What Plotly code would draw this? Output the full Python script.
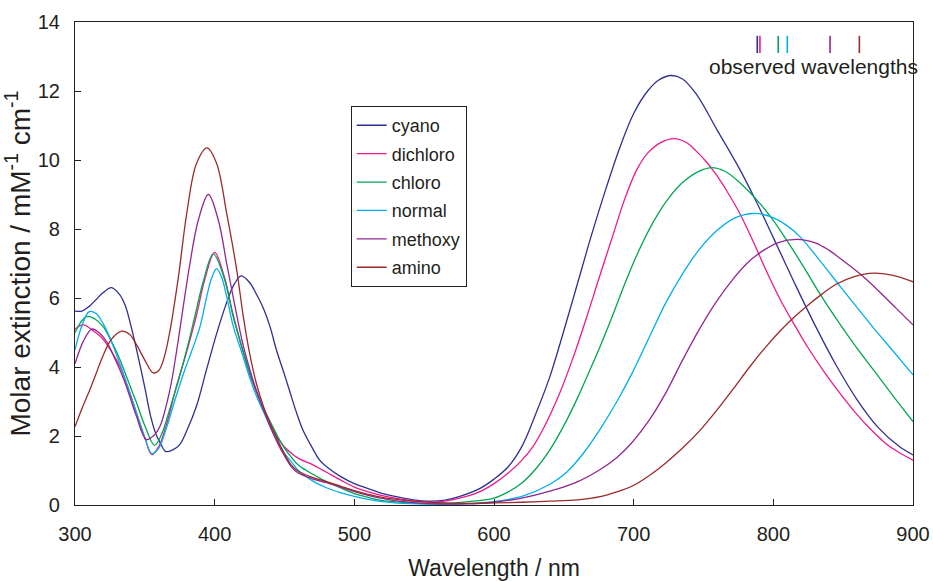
import plotly.graph_objects as go

# spectra: wavelength (nm) and molar extinction (mM^-1 cm^-1)
cyano_nm = [300, 305, 310, 315, 320, 326, 332, 336, 340, 344, 350, 354, 358, 361, 365, 370, 375, 380, 387, 394,
            401, 408, 414, 419, 425, 430, 435, 440, 444, 450, 454, 458, 463, 470, 475, 482, 490, 500, 506, 518,
            530, 542, 554, 565, 575, 590, 600, 610, 620, 630, 640, 650, 660, 670, 680, 690, 700, 710, 718,
            727, 735, 745, 760, 775, 786, 800, 815, 830, 845, 860, 875, 890, 900]
cyano = [5.62, 5.62, 5.75, 5.95, 6.15, 6.3, 6.1, 5.78, 5.2, 4.52, 3.4, 2.6, 2.05, 1.8, 1.55, 1.6, 1.75, 2.15, 2.87, 3.9,
         4.91, 5.8, 6.4, 6.64, 6.45, 6.1, 5.69, 5.12, 4.52, 3.78, 3.26, 2.75, 2.19, 1.65, 1.31, 1.05, 0.83, 0.62, 0.53, 0.36,
         0.24, 0.15, 0.11, 0.14, 0.24, 0.48, 0.75, 1.1, 1.7, 2.65, 3.72, 5.05, 6.45, 7.85, 9.15, 10.35, 11.35, 12.0, 12.32,
         12.45, 12.35, 11.9, 10.85, 9.8, 8.94, 7.75, 6.45, 5.2, 4.05, 3.05, 2.25, 1.7, 1.45]

dichloro_nm = [300, 306, 313, 320, 326, 332, 338, 344, 350, 355, 360, 366, 372, 380, 387, 393, 400, 407, 413, 420,
               425, 430, 435, 440, 445, 450, 455, 460, 470, 480, 490, 500, 510, 520, 530, 540, 555, 570, 580, 590,
               600, 610, 620, 628, 637, 647, 656, 666, 675, 685, 693, 702, 710, 720, 729, 738, 745, 752, 759, 767,
               776, 786, 795, 805, 814, 825, 836, 848, 860, 870, 880, 890, 900]
dichloro = [5.1, 5.22, 5.05, 4.81, 4.45, 4.03, 3.4, 2.67, 1.95, 1.46, 1.7, 2.4, 3.35, 4.45, 5.5, 6.55, 7.32, 6.6, 5.55, 4.5,
            3.8, 3.25, 2.75, 2.3, 1.95, 1.68, 1.5, 1.35, 1.17, 0.95, 0.73, 0.52, 0.38, 0.27, 0.19, 0.13, 0.08, 0.15, 0.25, 0.39,
            0.62, 0.92, 1.3, 1.7, 2.35, 3.24, 4.2, 5.4, 6.55, 7.8, 8.8, 9.7, 10.2, 10.52, 10.62, 10.5, 10.25, 9.95, 9.58, 9.08,
            8.45, 7.6, 6.78, 5.95, 5.3, 4.55, 3.88, 3.22, 2.62, 2.18, 1.8, 1.52, 1.3]

chloro_nm = [300, 308, 314, 320, 326, 332, 338, 344, 350, 357, 362, 368, 374, 380, 386, 392, 399, 407, 413, 420,
             425, 430, 435, 440, 445, 450, 455, 460, 470, 480, 490, 500, 510, 520, 530, 545, 560, 580, 600, 610,
             620, 630, 640, 650, 660, 668, 675, 685, 694, 704, 714, 724, 735, 747, 756, 765, 775, 786, 798, 810,
             822, 833, 845, 858, 872, 885, 900]
chloro = [5.0, 5.46, 5.4, 5.18, 4.75, 4.23, 3.6, 2.97, 2.3, 1.73, 2.05, 2.8, 3.6, 4.5, 5.5, 6.5, 7.28, 6.55, 5.5, 4.5,
          3.85, 3.3, 2.8, 2.4, 2.0, 1.65, 1.38, 1.15, 0.9, 0.68, 0.5, 0.33, 0.22, 0.13, 0.09, 0.05, 0.04, 0.09, 0.2, 0.38,
          0.64, 1.05, 1.6, 2.3, 3.12, 3.85, 4.5, 5.5, 6.45, 7.4, 8.2, 8.84, 9.35, 9.68, 9.78, 9.68, 9.38, 8.94, 8.36, 7.65,
          6.88, 6.14, 5.4, 4.65, 3.9, 3.2, 2.42]

normal_nm = [300, 305, 310, 315, 320, 326, 332, 338, 344, 350, 355, 360, 366, 372, 378, 383, 389.5, 394.3, 398, 401.4,
             405, 408.6, 413.4, 420, 425, 430, 435, 440, 445, 450, 455, 460, 470, 480, 490, 500, 510, 520, 540, 560,
             580, 600, 620, 640, 652, 664, 676, 688, 699, 711, 723, 735, 747, 760, 773, 786, 798, 809, 819,
             833, 848, 860, 872, 886, 900]
normal = [4.5, 5.2, 5.6, 5.55, 5.27, 4.75, 4.11, 3.4, 2.67, 1.95, 1.49, 1.65, 2.3, 3.1, 3.85, 4.4, 5.17, 6.04, 6.6, 6.85,
          6.6, 6.04, 5.17, 4.35, 3.7, 3.15, 2.7, 2.25, 1.85, 1.5, 1.25, 1.0, 0.7, 0.5, 0.36, 0.25, 0.16, 0.1, 0.04, 0.02,
          0.04, 0.1, 0.25, 0.6, 0.95, 1.5, 2.2, 3.0, 3.83, 4.85, 5.86, 6.7, 7.41, 7.97, 8.33, 8.45, 8.36, 8.12, 7.78,
          7.1, 6.33, 5.72, 5.12, 4.45, 3.77]

methoxy_nm = [300, 306, 312, 317, 323, 329, 335, 340, 344, 351, 356, 361, 368, 372.5, 377.5, 382.3, 388.3, 395.5, 402.6, 408.6,
              414.6, 420, 425, 430, 435, 440, 445, 450, 455, 460, 470, 480, 490, 500, 510, 520, 530, 545, 560, 580,
              600, 620, 640, 660, 676, 688, 699, 711, 723, 735, 747, 759, 771, 781, 790, 803, 817, 830, 840, 850,
              862, 875, 888, 900]
methoxy = [4.09, 4.75, 5.1, 5.0, 4.71, 4.2, 3.64, 3.05, 2.57, 1.9, 2.0, 2.3, 3.35, 4.4, 5.75, 7.0, 8.26, 9.0, 8.26, 7.0,
           5.75, 4.7, 3.95, 3.3, 2.75, 2.25, 1.8, 1.42, 1.1, 0.92, 0.76, 0.65, 0.52, 0.39, 0.28, 0.19, 0.12, 0.06, 0.03, 0.03,
           0.08, 0.2, 0.4, 0.68, 1.03, 1.38, 1.82, 2.45, 3.25, 4.2, 5.09, 5.88, 6.54, 7.0, 7.3, 7.6, 7.7, 7.6, 7.38, 7.08,
           6.7, 6.22, 5.7, 5.22]

amino_nm = [300, 305, 310.7, 315, 320, 326, 333.4, 339, 344, 350, 356, 360, 364, 368, 374, 380, 387, 394.5, 401.4, 408.6,
            415.8, 420.5, 425, 430, 435, 440, 445, 450, 455, 460, 470, 480, 490, 500, 510, 520, 540, 560, 580, 600,
            620, 640, 660, 676, 688, 699, 711, 723, 735, 747, 759, 771, 783, 795, 805, 815, 825, 835, 845, 858,
            872, 885, 900]
amino = [2.27, 2.8, 3.35, 3.8, 4.32, 4.8, 5.04, 4.95, 4.65, 4.2, 3.83, 3.9, 4.3, 5.05, 6.6, 8.45, 9.9, 10.35, 9.9, 8.45,
         6.81, 5.46, 4.4, 3.5, 2.85, 2.35, 1.9, 1.48, 1.15, 0.97, 0.8, 0.68, 0.55, 0.42, 0.31, 0.22, 0.12, 0.07, 0.05, 0.06,
         0.08, 0.11, 0.15, 0.24, 0.38, 0.55, 0.85, 1.22, 1.65, 2.14, 2.72, 3.35, 4.0, 4.6, 5.05, 5.45, 5.8, 6.12, 6.4, 6.62,
         6.72, 6.66, 6.47]

names = ["cyano", "dichloro", "chloro", "normal", "methoxy", "amino"]
colors = ["#2E3192", "#EC1C8C", "#00A651", "#00AEEF", "#92278F", "#9B2A2A"]
series = [(cyano_nm, cyano), (dichloro_nm, dichloro), (chloro_nm, chloro),
          (normal_nm, normal), (methoxy_nm, methoxy), (amino_nm, amino)]

# short ticks at the top right
observed_nm = [788.5, 790.4, 803.5, 810.0, 840.6, 861.6]

FONT = "Arial, Liberation Sans, sans-serif"
INK = "#231F20"

fig = go.Figure()

for name, color, (x, y) in zip(names, colors, series):
    fig.add_trace(go.Scatter(x=x, y=y, mode="lines", name=name, legendgroup=name,
                             line=dict(color=color, width=1.3, shape="spline", smoothing=1.0)))

for wl, color in zip(observed_nm, colors):
    fig.add_trace(go.Scatter(x=[wl, wl], y=[13.1, 13.6], mode="lines", showlegend=False,
                             hoverinfo="skip", line=dict(color=color, width=1.6)))

fig.add_annotation(x=828.5, y=12.72, text="observed wavelengths", showarrow=False,
                   font=dict(family=FONT, size=21, color=INK))

fig.update_layout(
    width=933, height=581,
    margin=dict(l=75, r=20, t=22, b=76),
    plot_bgcolor="white", paper_bgcolor="white",
    font=dict(family=FONT, size=20, color=INK),
    showlegend=True,
    legend=dict(x=0.329, y=0.826, xanchor="left", yanchor="top",
                bordercolor=INK, borderwidth=1, bgcolor="white",
                font=dict(family=FONT, size=18, color=INK),
                traceorder="grouped", tracegroupgap=2, itemwidth=30),
)

fig.update_xaxes(range=[300, 900], dtick=100, ticks="inside", ticklen=6, tickcolor=INK,
                 showline=True, linecolor=INK, linewidth=1.2, mirror=True, showgrid=False,
                 zeroline=False, ticklabelstandoff=11, automargin=False,
                 title=dict(text="Wavelength / nm", font=dict(size=23), standoff=16))
fig.update_yaxes(range=[0, 14], dtick=2, ticks="inside", ticklen=6, tickcolor=INK,
                 showline=True, linecolor=INK, linewidth=1.2, mirror=True, showgrid=False,
                 zeroline=False, ticklabelstandoff=10, automargin=False,
                 title=dict(text="Molar extinction / mM<sup>-1</sup> cm<sup>-1</sup>", font=dict(size=28), standoff=3))

# drop the default 8px page margin so the 933x581 figure fills the window
fig.write_html("out.html", config={"displayModeBar": False},
               post_script="document.body.style.margin = '0'; document.body.style.overflow = 'hidden';")
